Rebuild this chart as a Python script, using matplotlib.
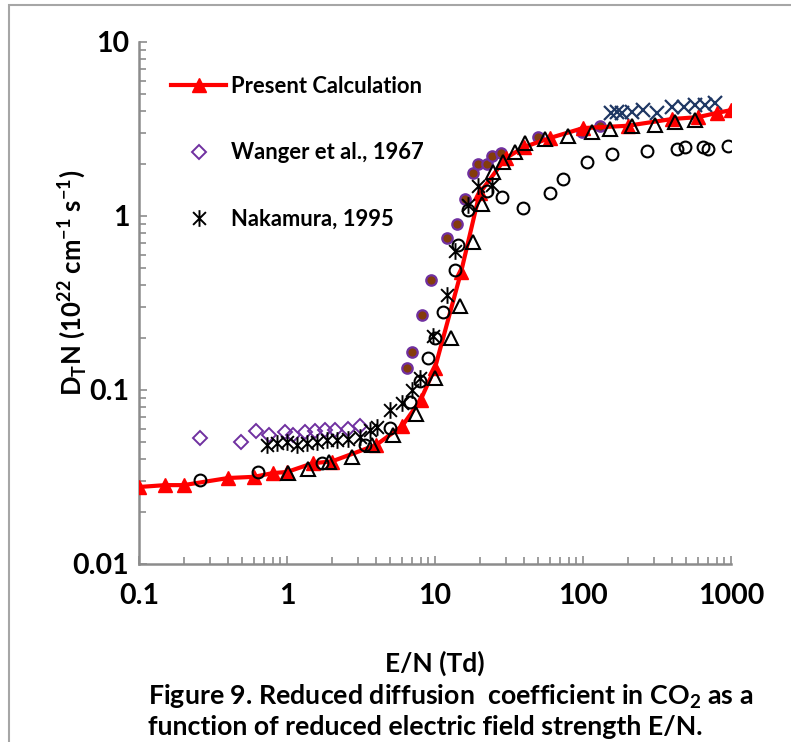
import numpy as np
import matplotlib.pyplot as plt
from matplotlib.path import Path
from matplotlib.patches import Rectangle
from matplotlib.ticker import FixedLocator, LogLocator, NullFormatter

plt.rcParams['font.family'] = ['Lato', 'DejaVu Sans']
plt.rcParams['font.weight'] = 'bold'
plt.rcParams['mathtext.fontset'] = 'custom'
plt.rcParams['mathtext.rm'] = 'Lato:bold'
plt.rcParams['mathtext.bf'] = 'Lato:bold'

# calculo presente (linea roja con triangulos)
present_x = [0.1, 0.15, 0.2, 0.4, 0.6, 0.8, 1, 1.5, 2, 4, 6, 8, 10, 15, 20, 30,
             40, 60, 100, 200, 400, 600, 800, 1000]
present_y = [0.0277, 0.0284, 0.0284, 0.0312, 0.0317, 0.0333, 0.0338, 0.038, 0.0388,
             0.0483, 0.0621, 0.0877, 0.134, 0.476, 1.35, 2.15, 2.49, 2.81, 3.2,
             3.3, 3.61, 3.7, 3.91, 4.06]

# Wanger et al., 1967
wanger_x = [0.26, 0.49, 0.62, 0.75, 0.97, 1.1, 1.32, 1.55, 1.81, 2.11, 2.59, 3.11]
wanger_y = [0.053, 0.050, 0.058, 0.055, 0.057, 0.055, 0.057, 0.058, 0.059, 0.059,
            0.060, 0.062]

# Nakamura, 1995
nakamura_x = [0.73, 0.85, 1.0, 1.16, 1.36, 1.59, 1.85, 2.17, 2.6, 3.11, 3.64, 4.04,
              4.97, 5.96, 6.96, 7.92, 9.74, 12.0, 13.6, 16.6, 19.6, 24.2]
nakamura_y = [0.0483, 0.0494, 0.0504, 0.0483, 0.0494, 0.0504, 0.0516, 0.0516,
              0.0521, 0.054, 0.0589, 0.0615, 0.0767, 0.0839, 0.1, 0.117, 0.203,
              0.352, 0.629, 1.16, 1.49, 1.51]

# otros datos experimentales
circle_x = [0.26, 0.64, 1.72, 3.37, 4.97, 6.77, 7.92, 9.02, 10.0, 11.4, 13.6, 14.4,
            16.8, 22.3, 28.2, 39.5, 59.8, 73.6, 106, 156, 269, 430, 489, 650, 703, 959]
circle_y = [0.0304, 0.0339, 0.0382, 0.0483, 0.0603, 0.0857, 0.112, 0.152, 0.2,
            0.282, 0.49, 0.681, 1.08, 1.40, 1.29, 1.11, 1.35, 1.63, 2.04, 2.26,
            2.37, 2.43, 2.48, 2.48, 2.43, 2.54]

triangle_x = [1.02, 1.39, 1.93, 2.76, 3.77, 5.23, 7.39, 10.0, 12.8, 14.8, 18.0, 20.7,
              24.8, 28.9, 34.7, 40.5, 55.3, 79.6, 114.5, 152, 213, 306, 419, 571]
triangle_y = [0.0332, 0.035, 0.0387, 0.0412, 0.048, 0.0551, 0.0728, 0.117, 0.2,
              0.304, 0.712, 1.17, 1.80, 2.05, 2.34, 2.62, 2.76, 2.88, 3.05, 3.15,
              3.29, 3.33, 3.48, 3.56]

dot_x = [6.44, 6.94, 8.13, 9.44, 12.0, 14.0, 16.0, 18.2, 19.5, 22.4, 24.1, 27.9,
         49.5, 98, 130]
dot_y = [0.133, 0.166, 0.27, 0.426, 0.743, 0.9, 1.26, 1.77, 2.0, 2.0, 2.2, 2.31,
         2.83, 3.05, 3.29]

cross_x = [155, 170, 183, 214, 254, 316, 399, 481, 571, 667, 780]
cross_y = [3.91, 3.96, 3.91, 3.96, 4.07, 3.91, 4.23, 4.23, 4.34, 4.34, 4.46]

# marcador tipo asterisco (x con linea vertical)
star = Path([(-1, -1), (1, 1), (-1, 1), (1, -1), (0, -1.3), (0, 1.3)],
            [Path.MOVETO, Path.LINETO, Path.MOVETO, Path.LINETO, Path.MOVETO, Path.LINETO])

fig = plt.figure(figsize=(7.91, 7.42), dpi=100)
ax = fig.add_axes([139/791, 1-564/742, 592/791, 522/742])

ax.plot(cross_x, cross_y, ls='none', marker='x', ms=10, mew=1.6, color='#1F3864', zorder=2)
ax.plot(wanger_x, wanger_y, ls='none', marker='D', ms=6.8, mew=1.4, mfc='none',
        mec='#7030A0', zorder=2, label='Wanger et al., 1967')
ax.plot(dot_x, dot_y, ls='none', marker='o', ms=7.5, mew=1.6, mfc='#843C0C',
        mec='#7030A0', zorder=2)
ax.plot(present_x, present_y, color='red', lw=3, marker='^', ms=10.5,
        zorder=3, label='Present Calculation')
ax.plot(triangle_x, triangle_y, ls='none', marker='^', ms=9.5, mew=1.5, mfc='none',
        mec='black', zorder=4)
ax.plot(circle_x, circle_y, ls='none', marker='o', ms=8.5, mew=1.5, mfc='none',
        mec='black', zorder=4)
ax.plot(nakamura_x, nakamura_y, ls='none', marker=star, ms=12, mew=1.4,
        color='black', zorder=5, label='Nakamura, 1995')

ax.set_xscale('log')
ax.set_yscale('log')
ax.set_xlim(0.1, 1000)
ax.set_ylim(0.01, 10)

ax.xaxis.set_major_locator(FixedLocator([0.1, 1, 10, 100, 1000]))
ax.set_xticklabels(['0.1', '1', '10', '100', '1000'])
ax.yaxis.set_major_locator(FixedLocator([0.01, 0.1, 1, 10]))
ax.set_yticklabels(['0.01', '0.1', '1', '10'])
for a in (ax.xaxis, ax.yaxis):
    a.set_minor_locator(LogLocator(base=10, subs=np.arange(2, 10)))
    a.set_minor_formatter(NullFormatter())

gris = '#8C8C8C'
for s in ('top', 'right'):
    ax.spines[s].set_visible(False)
for s in ('left', 'bottom'):
    ax.spines[s].set_color(gris)
    ax.spines[s].set_linewidth(1.8)
ax.tick_params(which='both', direction='in', color=gris, width=1.2, length=5)
ax.tick_params(which='major', length=6)
ax.tick_params(axis='x', which='major', pad=14, labelsize=20.5)
ax.tick_params(axis='y', which='major', pad=7, labelsize=20.5)

ax.set_xlabel('E/N (Td)', fontsize=19, fontweight='bold')
ax.xaxis.set_label_coords(0.5, -0.19)
ax.xaxis.label.set_va('center')
ax.set_ylabel(r'D$_\mathbf{T}$N (10$^\mathbf{22}$ cm$^\mathbf{-1}$ s$^\mathbf{-1}$)',
              fontsize=18.5, fontweight='bold')
ax.yaxis.set_label_coords(-0.113, 0.538)
ax.yaxis.label.set_va('center')

h, l = ax.get_legend_handles_labels()
orden = [l.index('Present Calculation'), l.index('Wanger et al., 1967'), l.index('Nakamura, 1995')]
leg = ax.legend([h[i] for i in orden], [l[i] for i in orden], loc='upper left',
                bbox_to_anchor=(0.040, 0.952), frameon=False, fontsize=15.8,
                labelspacing=2.08, handlelength=2.5, handletextpad=0.23,
                borderaxespad=0)

fig.text(148/791, 1-697/742, r'Figure 9. Reduced diffusion  coefficient in CO$_\mathbf{2}$ as a',
         fontsize=19.3, fontweight='bold', va='center', ha='left')
fig.text(148/791, 1-727/742, 'function of reduced electric field strength E/N.',
         fontsize=19.3, fontweight='bold', va='center', ha='left')

# marco exterior gris
fig.add_artist(Rectangle((9/791, -0.05), 1.2, 1-5/742+0.05, transform=fig.transFigure,
                         fill=False, ec='#A6A6A6', lw=1.5))

plt.savefig('out.png', dpi=100)
plt.close()
